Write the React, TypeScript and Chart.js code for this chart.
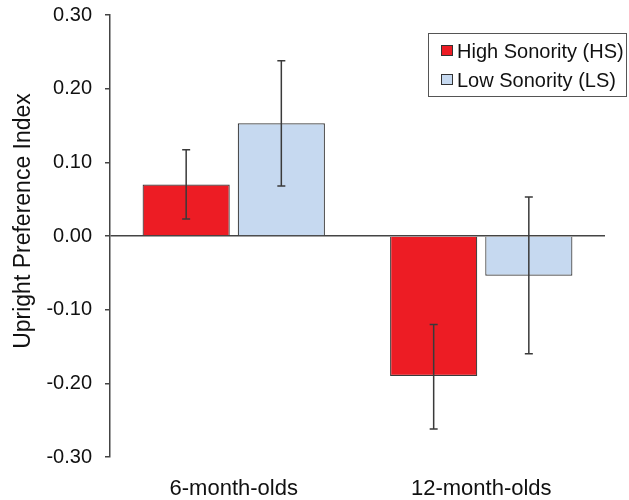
import { useEffect, useRef } from 'react';
import { Chart, registerables } from 'chart.js';

Chart.register(...registerables);

const categories = ['6-month-olds', '12-month-olds'];
const seriesNames = ['High Sonority (HS)', 'Low Sonority (LS)'];
const hsValues = [0.07, -0.19];
const lsValues = [0.153, -0.054];
const hsErrLow = [0.023, -0.262];
const hsErrHigh = [0.117, -0.12];
const lsErrLow = [0.068, -0.16];
const lsErrHigh = [0.238, 0.053];
const yTicks = [-0.3, -0.2, -0.1, 0, 0.1, 0.2, 0.3];
const yTitle = 'Upright Preference Index';

const FONT = "'Liberation Sans', Arial, sans-serif";
const RED = '#ED1C24';
const BLUE = '#C6D9F0';
const DARK = '#3a3a3a';

const errorBarPlugin = {
  id: 'errorBars',
  afterDatasetsDraw(chart: any) {
    const ctx = chart.ctx;
    const yScale = chart.scales.y;
    const lows = [hsErrLow, lsErrLow];
    const highs = [hsErrHigh, lsErrHigh];
    ctx.save();
    ctx.strokeStyle = DARK;
    ctx.lineWidth = 1.5;
    chart.data.datasets.forEach((_: any, di: number) => {
      const meta = chart.getDatasetMeta(di);
      meta.data.forEach((bar: any, i: number) => {
        const x = bar.x;
        const yl = yScale.getPixelForValue(lows[di][i]);
        const yh = yScale.getPixelForValue(highs[di][i]);
        ctx.beginPath();
        ctx.moveTo(x, yl);
        ctx.lineTo(x, yh);
        ctx.moveTo(x - 4, yl);
        ctx.lineTo(x + 4, yl);
        ctx.moveTo(x - 4, yh);
        ctx.lineTo(x + 4, yh);
        ctx.stroke();
      });
    });
    ctx.restore();
  },
};

const legendPlugin = {
  id: 'boxLegend',
  afterDraw(chart: any) {
    const ctx = chart.ctx;
    const colors = [RED, BLUE];
    ctx.save();
    ctx.strokeStyle = '#555';
    ctx.lineWidth = 1;
    ctx.strokeRect(428.5, 33.5, 198, 63);
    ctx.font = `20px ${FONT}`;
    ctx.textBaseline = 'middle';
    ctx.textAlign = 'left';
    seriesNames.forEach((name, i) => {
      const cy = i === 0 ? 51 : 80;
      ctx.fillStyle = colors[i];
      ctx.fillRect(441, cy - 6, 12, 11);
      ctx.strokeStyle = '#333';
      ctx.strokeRect(441.5, cy - 5.5, 11, 10);
      ctx.fillStyle = '#111';
      ctx.fillText(name, 457, cy + 1);
    });
    ctx.restore();
  },
};

const yTitlePlugin = {
  id: 'yTitle',
  afterDraw(chart: any) {
    const ctx = chart.ctx;
    ctx.save();
    ctx.translate(24, 221);
    ctx.rotate(-Math.PI / 2);
    ctx.font = `23px ${FONT}`;
    ctx.fillStyle = '#111';
    ctx.textAlign = 'center';
    ctx.textBaseline = 'middle';
    ctx.fillText(yTitle, 0, 0);
    ctx.restore();
  },
};

export default function App() {
  const ref = useRef<HTMLCanvasElement | null>(null);
  useEffect(() => {
    if (!ref.current) return;
    const chart = new Chart(ref.current, {
      type: 'bar',
      data: {
        labels: categories,
        datasets: [
          {
            label: seriesNames[0],
            data: hsValues,
            backgroundColor: RED,
            borderColor: '#3a3a3a',
            borderWidth: 1.2,
            categoryPercentage: 0.769,
            barPercentage: 0.916,
          },
          {
            label: seriesNames[1],
            data: lsValues,
            backgroundColor: BLUE,
            borderColor: '#3a3a3a',
            borderWidth: 1.2,
            categoryPercentage: 0.769,
            barPercentage: 0.916,
          },
        ],
      },
      options: {
        responsive: false,
        animation: false,
        layout: { padding: { top: 15, right: 24, left: 0, bottom: 0 } },
        plugins: {
          legend: { display: false },
          tooltip: { enabled: false },
          title: { display: false },
        },
        scales: {
          x: {
            grid: { display: false },
            border: { display: false },
            ticks: {
              font: { family: FONT, size: 22 },
              color: '#111',
              padding: 11,
            },
            afterFit(scale: any) {
              scale.height = 43;
            },
          },
          y: {
            min: -0.3,
            max: 0.3,
            afterBuildTicks(scale: any) {
              scale.ticks = yTicks.map((v) => ({ value: v }));
            },
            ticks: {
              font: { family: FONT, size: 20 },
              color: '#111',
              padding: 13,
              callback: (v: any) => Number(v).toFixed(2),
            },
            grid: {
              color: (c: any) =>
                c.tick && Math.abs(c.tick.value) < 1e-9 ? '#444' : 'rgba(0,0,0,0)',
              lineWidth: 1.5,
              tickColor: '#444',
              tickLength: 5,
              drawOnChartArea: true,
            },
            border: { display: true, color: '#444', width: 1.5 },
            afterFit(scale: any) {
              scale.width = 110;
              scale.paddingTop = 0;
              scale.paddingBottom = 0;
            },
          },
        },
      },
      plugins: [errorBarPlugin, legendPlugin, yTitlePlugin],
    });
    return () => chart.destroy();
  }, []);
  return (
    <div style={{ position: 'fixed', left: 0, top: 0, width: 629, height: 500, background: '#fff' }}>
      <canvas ref={ref} width={629} height={500} />
    </div>
  );
}
